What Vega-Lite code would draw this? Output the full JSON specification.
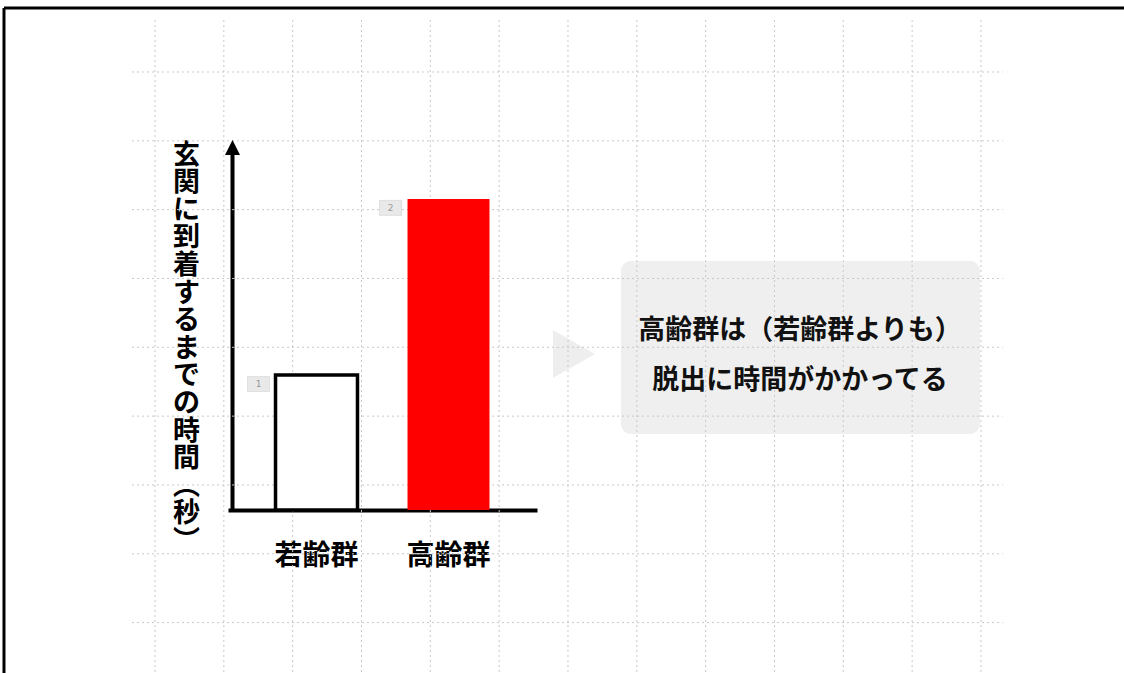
{
  "$schema": "https://vega.github.io/schema/vega-lite/v6.json",
  "width": 1124,
  "height": 673,
  "autosize": {"type": "fit", "contains": "padding"},
  "padding": 0,
  "background": "white",
  "config": {"view": {"stroke": null}, "font": "Noto Sans CJK JP"},
  "datasets": {
    "cols": [{"col": 0}, {"col": 1}, {"col": 2}, {"col": 3}, {"col": 4}, {"col": 5}, {"col": 6}, {"col": 7}, {"col": 8}, {"col": 9}, {"col": 10}, {"col": 11}, {"col": 12}],
    "rows": [{"row": 0}, {"row": 1}, {"row": 2}, {"row": 3}, {"row": 4}, {"row": 5}, {"row": 6}, {"row": 7}, {"row": 8}],
    "times": [
      {"group": "若齢群", "time": 3.77, "rank": "1"},
      {"group": "高齢群", "time": 8.69, "rank": "2"}
    ],
    "note": [{"text": "高齢群は（若齢群よりも）\n脱出に時間がかかってる"}]
  },
  "layer": [
    {
      "layer": [
        {
          "data": {"values": [{}]},
          "mark": {"type": "rule", "stroke": "black", "strokeWidth": 3, "clip": true},
          "encoding": {
            "x": {"datum": -2.194, "type": "quantitative", "scale": {"domain": [-2.252, 14.078], "zero": false, "nice": false}, "axis": null},
            "x2": {"datum": 20},
            "y": {"datum": -0.93, "type": "quantitative", "scale": {"domain": [-1.046, 8.732], "reverse": true, "zero": false, "nice": false}, "axis": null}
          }
        },
        {
          "data": {"values": [{}]},
          "mark": {"type": "rule", "stroke": "black", "strokeWidth": 3, "clip": true},
          "encoding": {
            "x": {"datum": -2.194, "type": "quantitative"},
            "y": {"datum": -0.93, "type": "quantitative"},
            "y2": {"datum": 20}
          }
        },
        {
          "data": {"values": [{}]},
          "mark": {"type": "rect", "fill": "#efefef", "cornerRadius": 10},
          "encoding": {
            "x": {"datum": 6.77, "type": "quantitative"},
            "x2": {"datum": 11.986},
            "y": {"datum": 2.746, "type": "quantitative"},
            "y2": {"datum": 5.259}
          }
        },
        {
          "data": {"values": [{}]},
          "mark": {"type": "point", "shape": "M-0.875,-1 L0.875,0 L-0.875,1 Z", "size": 2304, "filled": true, "fill": "#eeeeee", "opacity": 1, "strokeWidth": 0},
          "encoding": {
            "x": {"datum": 6.087, "type": "quantitative"},
            "y": {"datum": 4.097, "type": "quantitative"}
          }
        },
        {
          "data": {"name": "cols"},
          "mark": {"type": "rule", "stroke": "#c8c8c8", "strokeWidth": 1, "strokeDash": [2, 3], "clip": true},
          "encoding": {
            "x": {"field": "col", "type": "quantitative"},
            "y": {"datum": -0.755, "type": "quantitative"},
            "y2": {"datum": 9}
          }
        },
        {
          "data": {"name": "rows"},
          "mark": {"type": "rule", "stroke": "#c8c8c8", "strokeWidth": 1, "strokeDash": [2, 3]},
          "encoding": {
            "y": {"field": "row", "type": "quantitative"},
            "x": {"datum": -0.334, "type": "quantitative"},
            "x2": {"datum": 12.316}
          }
        },
        {
          "data": {"name": "note"},
          "mark": {"type": "text", "fontSize": 27, "fontWeight": "bold", "font": "Noto Sans CJK JP", "lineHeight": 50, "lineBreak": "\n", "align": "center", "baseline": "middle", "color": "#111111"},
          "encoding": {
            "x": {"datum": 9.371, "type": "quantitative"},
            "y": {"datum": 3.76, "type": "quantitative"},
            "text": {"field": "text", "type": "nominal"}
          }
        },
        {
          "data": {"values": [{}]},
          "mark": {"type": "point", "shape": "M0,-1 L1,1 L-1,1 Z", "size": 225, "filled": true, "fill": "black", "opacity": 1, "strokeWidth": 0},
          "encoding": {
            "x": {"datum": 1.126, "type": "quantitative"},
            "y": {"datum": 1.097, "type": "quantitative"}
          }
        }
      ]
    },
    {
      "data": {"name": "times"},
      "encoding": {
        "x": {
          "field": "group",
          "type": "nominal",
          "sort": null,
          "scale": {"domain": ["若齢群", "高齢群"], "range": [228, 537], "paddingInner": 0.379, "paddingOuter": 0.36},
          "axis": {
            "orient": "bottom",
            "offset": -163,
            "domainColor": "black",
            "domainWidth": 4,
            "ticks": false,
            "grid": false,
            "labelFont": "Noto Sans CJK JP",
            "labelFontSize": 28,
            "labelFontWeight": "bold",
            "labelColor": "black",
            "labelPadding": 32,
            "labelAngle": 0,
            "title": null
          }
        },
        "y": {
          "field": "time",
          "type": "quantitative",
          "scale": {"domain": [0, 10], "range": [510, 152], "nice": false, "zero": true},
          "axis": {
            "orient": "left",
            "offset": -232,
            "domainColor": "black",
            "domainWidth": 4,
            "ticks": false,
            "labels": false,
            "grid": false,
            "title": ["玄", "関", "に", "到", "着", "す", "る", "ま", "で", "の", "時", "間", "︵", "秒", "︶"],
            "titleAngle": 0,
            "titleX": -46,
            "titleY": 142,
            "titleAlign": "center",
            "titleBaseline": "top",
            "titleFont": "Noto Sans CJK JP",
            "titleFontSize": 27,
            "titleFontWeight": "bold",
            "titleLineHeight": 27.6,
            "titleColor": "black"
          }
        }
      },
      "layer": [
        {
          "mark": {"type": "bar", "strokeWidth": 3.5},
          "encoding": {
            "fill": {"field": "group", "type": "nominal", "scale": {"domain": ["若齢群", "高齢群"], "range": ["#ffffff", "#ff0000"]}, "legend": null},
            "stroke": {"field": "group", "type": "nominal", "scale": {"domain": ["若齢群", "高齢群"], "range": ["#000000", "transparent"]}, "legend": null}
          }
        },
        {
          "mark": {"type": "point", "shape": "M-1,-0.68 L1,-0.68 L1,0.68 L-1,0.68 Z", "size": 484, "filled": true, "fill": "#e9e9e9", "stroke": "#d2d2d2", "strokeWidth": 0.6, "opacity": 1, "xOffset": -58, "yOffset": 9}
        },
        {
          "mark": {"type": "text", "font": "DejaVu Sans", "fontSize": 9, "color": "#999999", "align": "center", "baseline": "middle", "xOffset": -58, "yOffset": 9},
          "encoding": {"text": {"field": "rank", "type": "nominal"}}
        }
      ]
    }
  ],
  "resolve": {"scale": {"x": "independent", "y": "independent"}}
}
